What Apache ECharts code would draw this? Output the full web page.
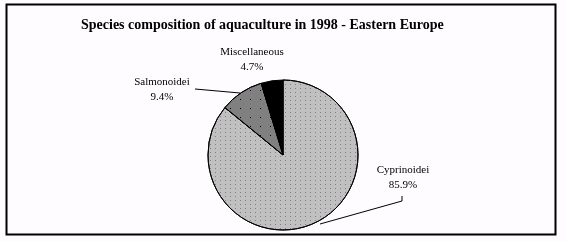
<!DOCTYPE html>
<html>
<head>
<meta charset="utf-8">
<script src="https://cdn.jsdelivr.net/npm/echarts@6/dist/echarts.min.js"></script>
<style>
html,body{margin:0;padding:0;background:#fffcff;}
#chart{width:567px;height:242px;}
</style>
</head>
<body>
<div id="chart"></div>
<script>
const titleText = 'Species composition of aquaculture in 1998 - Eastern Europe';
const categories = ['Cyprinoidei', 'Salmonoidei', 'Miscellaneous'];
const values = [85.9, 9.4, 4.7];

const colors = ['#c0c0c0', '#808080', '#000000'];
const decals = [
  {symbol:'rect', symbolSize:1, dashArrayX:[1,4], dashArrayY:[1,3], color:'#808080', rotation:0},
  {symbol:'rect', symbolSize:1, dashArrayX:[1,9], dashArrayY:[1,8], color:'#000000', rotation:0},
  null
];
const labelPos = [
  {x:403, y:178, line:[[320,224],[402,201],[402,196]]},
  {x:162, y:90, line:[[240,93],[195,89]]},
  {x:252, y:60, line:null}
];

const chart = echarts.init(document.getElementById('chart'), null, {renderer:'canvas'});
chart.setOption({
  backgroundColor:'#fffcff',
  animation:false,
  title:{
    text:titleText,
    left:76, top:13,
    textStyle:{fontFamily:'Liberation Serif', fontWeight:'bold', fontSize:14, color:'#000'}
  },
  graphic:[{
    type:'rect', shape:{x:6.5,y:4.5,width:549,height:230},
    style:{fill:'none', stroke:'#000', lineWidth:2}
  }],
  series:[{
    type:'pie',
    center:[283,155],
    radius:75,
    startAngle:90,
    clockwise:true,
    data:categories.map((c,i)=>{
      const d = {name:c, value:values[i], itemStyle:{color:colors[i]}};
      if(decals[i]) d.itemStyle.decal = decals[i];
      if(!labelPos[i].line) d.labelLine = {show:false};
      return d;
    }),
    itemStyle:{borderColor:'#000', borderWidth:1},
    label:{
      show:true,
      formatter:p=>p.name+'\n'+p.value.toFixed(1)+'%',
      fontFamily:'Liberation Serif', fontSize:11, color:'#000',
      lineHeight:15, align:'center'
    },
    labelLine:{show:true, length:10, length2:10, lineStyle:{color:'#000', width:1}},
    labelLayout:function(params){
      const lp = labelPos[params.dataIndex];
      const res = {x:lp.x, y:lp.y, align:'center', verticalAlign:'middle'};
      if(lp.line) res.labelLinePoints = lp.line;
      return res;
    }
  }]
});
</script>
</body>
</html>
